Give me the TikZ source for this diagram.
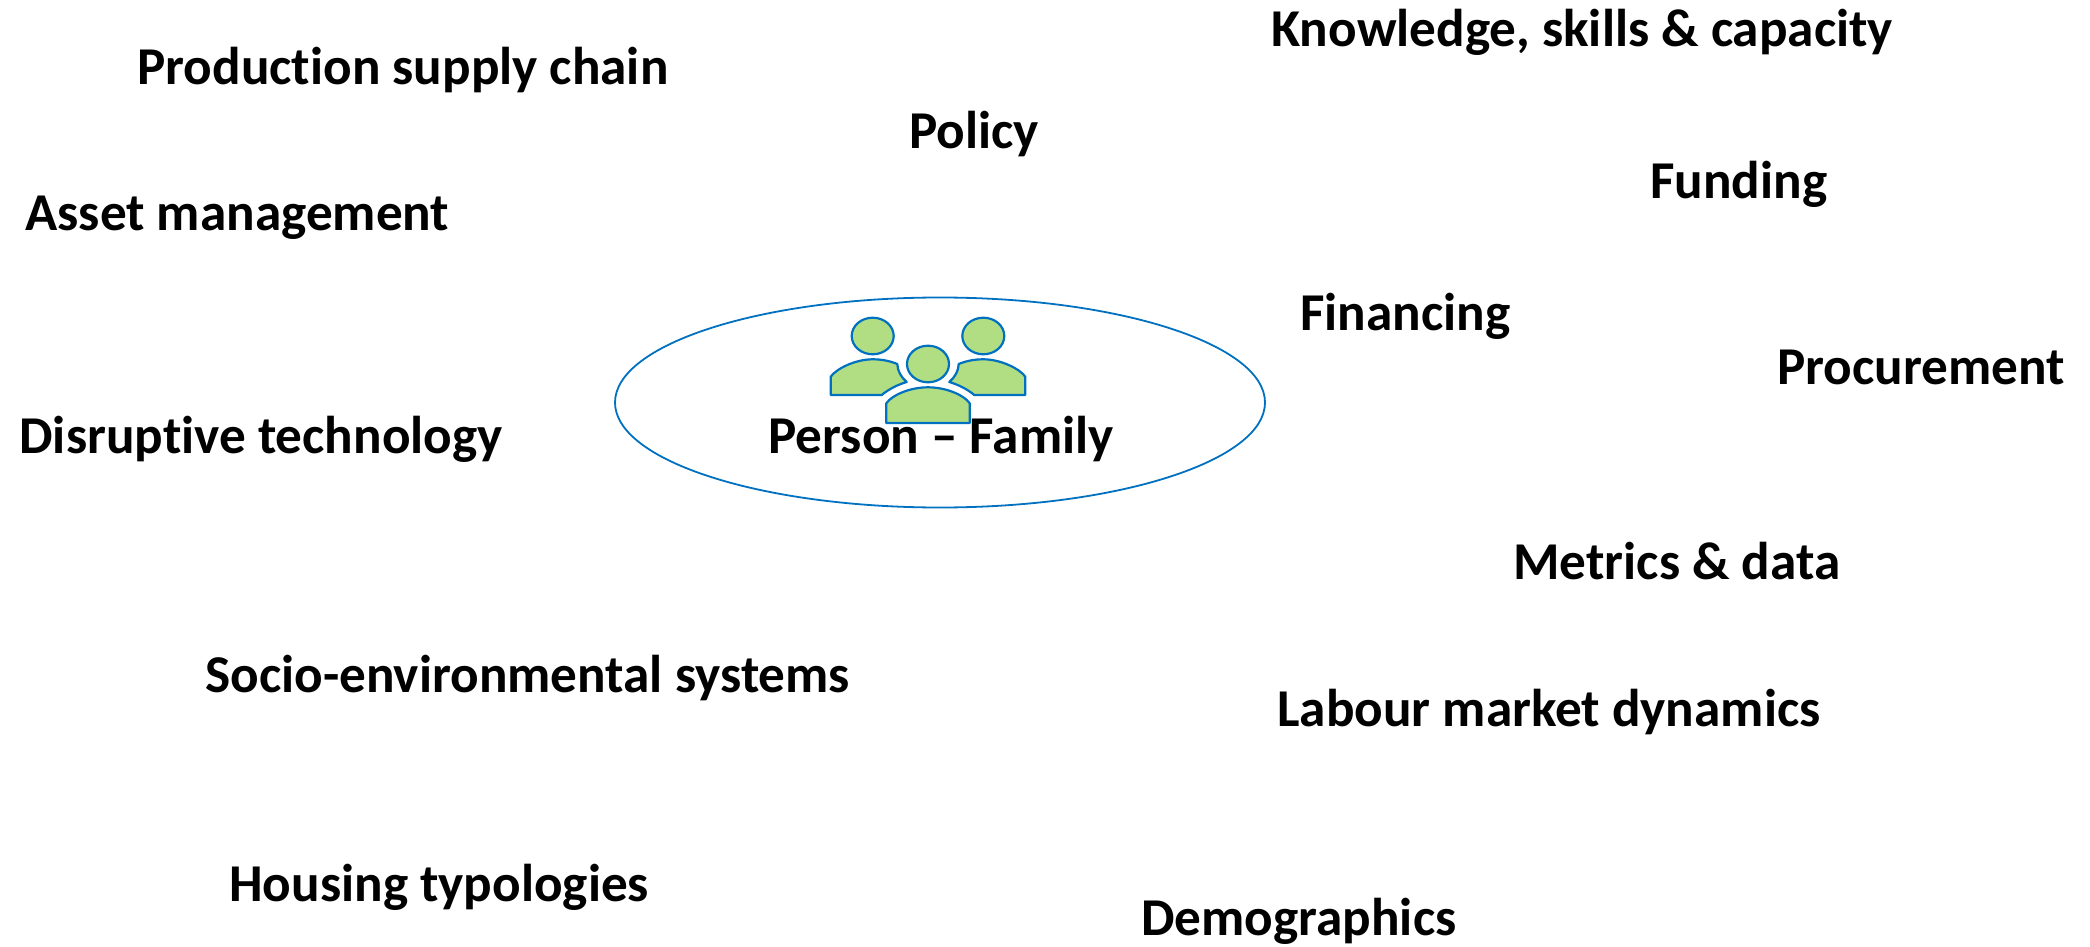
\documentclass[tikz,border=0pt]{standalone}
\usepackage{fontspec}
\setmainfont[Ligatures=NoCommon]{Carlito}
\usetikzlibrary{shapes.geometric}
\definecolor{ringblue}{HTML}{0070C0}
\definecolor{peoplegreen}{HTML}{B1DE83}
\tikzstyle{factor} = [anchor=base west,
                    inner sep=0pt,
                    font=\fontsize{26.6}{30}\selectfont\bfseries]
\tikzstyle{ring} = [ellipse,
                    draw=ringblue,
                    line width=0.9pt,
                    inner sep=0pt,
                    minimum width=325pt,
                    minimum height=105pt]
\tikzstyle{figure} = [draw=ringblue,
                    fill=peoplegreen,
                    line width=1.1pt,
                    line join=round]
\tikzstyle{head} = [figure,
                    ellipse,
                    inner sep=0pt,
                    minimum width=21pt,
                    minimum height=18.3pt]

\begin{document}
\begin{tikzpicture}[x=0.5pt,y=-0.5pt]
    \useasboundingbox (0,0) rectangle (2090,947);
    \node (family) [ring] at (940,402.5) {};
    \draw[figure] (830.7,395) -- (830.7,376.7) .. controls (836,369) and (855,359.3) .. (872.7,359.3) .. controls (882,359.3) and (890,361) .. (897.3,364) .. controls (897.5,371) and (901,377) .. (906.7,382) .. controls (897,385) and (889,389) .. (881.7,395) -- cycle;
    \draw[figure] (1025.3,395) -- (1025.3,376.7) .. controls (1020,369) and (1001,359.3) .. (983.3,359.3) .. controls (974,359.3) and (966,361) .. (958.7,364) .. controls (958.5,371) and (955,377) .. (949.3,382) .. controls (959,385) and (967,389) .. (974.3,395) -- cycle;
    \draw[figure] (886.3,423) -- (886.3,403.3) .. controls (892,395) and (910,387.3) .. (928,387.3) .. controls (946,387.3) and (964,395) .. (969.7,403.3) -- (969.7,423) -- cycle;
    \node (head1) [head] at (872.7,336) {};
    \node (head2) [head] at (983.3,336) {};
    \node (head3) [head] at (928,364) {};
    \node (supply) [factor] at (137,84.5) {Production supply chain};
    \node (policy) [factor] at (909,148.5) {Policy};
    \node (knowledge) [factor] at (1271,46.5) {Knowledge, skills \& capacity};
    \node (funding) [factor] at (1650,198.5) {Funding};
    \node (asset) [factor] at (25,230) {Asset management};
    \node (financing) [factor] at (1300,330.5) {Financing};
    \node (procurement) [factor] at (1777,384) {Procurement};
    \node (disruptive) [factor] at (19,453.5) {Disruptive technology};
    \node (person) [factor] at (768,453.5) {Person – Family};
    \node (metrics) [factor] at (1513,579) {Metrics \& data};
    \node (socio) [factor] at (205,692.5) {Socio-environmental systems};
    \node (labour) [factor] at (1277,726.5) {Labour market dynamics};
    \node (housing) [factor] at (229,901.5) {Housing typologies};
    \node (demographics) [factor] at (1141,935.5) {Demographics};
\end{tikzpicture}
\end{document}
